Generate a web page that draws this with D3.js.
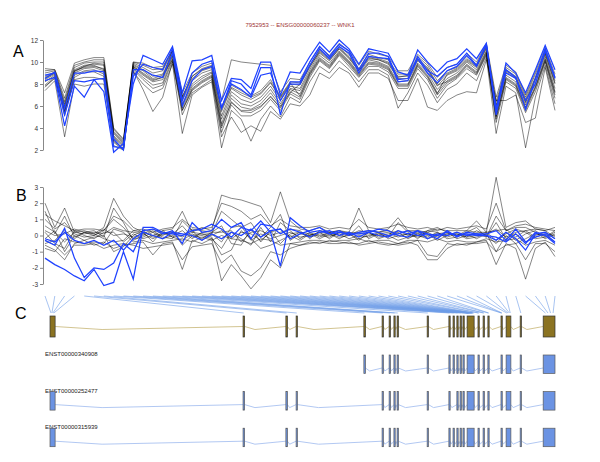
<!DOCTYPE html>
<html>
<head>
<meta charset="utf-8">
<script src="https://cdn.jsdelivr.net/npm/d3@7"></script>
<style>
body { margin: 0; background: #fff; }
svg text { font-family: "Liberation Sans", Arial, sans-serif; }
</style>
</head>
<body>
<div id="chart"></div>
<script>
// Probe-level data: 53 probes, gray = other samples, blue = highlighted samples
var titleText = "7952953 -- ENSG00000060237 -- WNK1";
var ticksA = [2, 4, 6, 8, 10, 12];
var ticksB = [-3, -2, -1, 0, 1, 2, 3];

// Panel A: expression
var grayA = [
  [9.2,9.3,6.7,9.7,10.0,10.2,10.2,3.9,2.9,10.0,9.7,9.3,9.4,11.2,6.9,8.7,9.4,9.7,5.9,7.9,7.4,6.9,7.4,8.4,6.9,8.2,8.1,9.7,11.1,10.4,11.4,10.7,9.4,10.7,10.4,10.2,8.9,8.9,10.5,9.7,8.3,9.2,9.5,10.5,9.8,11.5,6.4,9.5,8.9,6.8,8.9,11.0,8.6],
  [9.0,9.2,6.4,9.5,9.9,10.0,10.0,3.7,2.8,9.9,9.5,9.0,9.2,11.0,6.7,8.5,9.2,9.5,5.5,7.6,7.0,6.6,7.1,8.1,6.7,8.0,7.9,9.5,11.0,10.3,11.3,10.5,9.3,10.5,10.3,10.0,8.7,8.7,10.3,9.5,8.0,9.0,9.4,10.3,9.7,11.4,6.1,9.3,8.7,6.6,8.6,10.9,8.3],
  [8.7,9.1,6.2,9.3,9.7,9.8,9.7,3.5,2.6,9.8,9.3,8.7,8.9,10.8,6.5,8.3,9.0,9.3,5.1,7.3,6.6,6.3,6.8,7.8,6.5,7.8,7.6,9.3,10.8,10.1,11.2,10.3,9.2,10.3,10.2,9.8,8.5,8.5,10.1,9.3,7.8,8.8,9.2,10.1,9.5,11.2,5.8,9.1,8.5,6.3,8.4,10.7,8.0],
  [8.5,9.0,5.9,9.2,9.5,9.6,9.4,3.3,2.5,9.6,9.0,8.4,8.6,10.6,6.2,8.0,8.7,9.1,4.8,7.0,6.2,6.0,6.5,7.5,6.2,7.6,7.4,9.1,10.6,9.9,11.0,10.1,9.0,10.2,10.0,9.6,8.2,8.3,9.9,9.0,7.5,8.5,9.0,10.0,9.3,11.0,5.4,8.8,8.2,6.1,8.1,10.5,7.6],
  [8.2,8.8,5.6,9.0,9.4,9.5,9.2,3.1,2.3,9.5,8.8,8.2,8.4,10.5,6.0,7.8,8.5,9.0,4.4,6.7,5.9,5.7,6.2,7.2,6.0,7.5,7.1,9.0,10.4,9.7,10.9,10.0,8.9,10.0,9.9,9.5,8.0,8.0,9.8,8.8,7.2,8.3,8.8,9.8,9.1,10.9,5.1,8.6,8.0,5.9,7.8,10.3,7.3],
  [7.9,8.7,5.4,8.8,9.2,9.3,8.9,2.9,2.1,9.4,8.6,7.9,8.1,10.3,5.8,7.6,8.3,8.8,4.0,6.4,5.5,5.4,5.9,6.9,5.8,7.3,6.8,8.8,10.2,9.5,10.7,9.8,8.7,9.8,9.7,9.3,7.8,7.8,9.6,8.6,7.0,8.1,8.6,9.6,8.9,10.7,4.8,8.4,7.8,5.6,7.6,10.1,7.0],
  [7.7,8.6,5.1,8.6,9.1,9.1,8.7,2.7,2.0,9.3,8.4,7.6,7.9,10.1,5.6,7.4,8.1,8.6,3.6,6.1,5.1,5.1,5.6,6.6,5.6,7.1,6.6,8.6,10.1,9.4,10.6,9.6,8.6,9.6,9.6,9.1,7.6,7.6,9.4,8.4,6.7,7.9,8.5,9.4,8.8,10.6,4.5,8.2,7.6,5.4,7.3,10.0,6.7],
  [8.4,8.9,5.8,9.1,9.6,9.7,9.3,3.2,2.4,9.6,8.9,8.3,8.6,11.1,6.8,8.7,9.3,9.6,5.7,7.7,7.2,6.8,7.2,8.2,6.8,8.1,6.9,8.9,10.3,9.6,10.8,9.9,8.8,9.9,9.8,9.4,7.9,7.9,9.7,8.7,7.1,8.9,9.3,10.2,9.6,11.3,5.9,9.2,8.6,6.4,8.5,10.8,8.1],
  [8.6,9.0,6.0,9.2,9.6,9.9,9.8,3.6,2.7,9.7,9.2,8.5,8.8,10.2,5.6,7.5,8.2,8.7,4.2,6.3,5.6,5.6,6.0,6.8,5.9,7.2,8.0,9.6,10.9,10.2,11.2,10.4,9.2,10.4,10.2,9.9,8.6,8.8,10.2,9.4,7.9,8.2,8.7,9.7,9.0,10.8,5.0,8.5,7.9,5.8,7.7,10.2,7.2],
  [7.4,8.3,3.2,8.0,7.8,8.0,8.0,2.4,2.0,9.1,8.0,7.2,7.6,9.8,3.5,7.0,7.7,8.2,2.2,5.6,4.8,2.8,4.8,6.0,5.0,6.8,6.3,8.2,9.6,9.0,10.1,9.3,8.2,9.3,9.3,8.8,5.8,7.2,9.0,7.9,6.3,7.5,8.0,9.0,8.3,10.4,3.5,7.8,7.2,2.2,6.8,9.7,6.2],
  [9.4,9.3,7.2,9.9,10.2,10.4,10.4,4.0,3.0,10.0,9.9,9.5,9.6,11.0,7.2,9.0,9.6,9.9,6.5,10.2,10.0,9.9,9.8,9.7,7.3,8.5,8.4,10.0,11.4,10.6,11.7,11.0,9.7,11.0,10.7,10.5,9.2,9.2,10.7,9.9,8.6,9.5,9.8,10.8,10.0,11.7,6.8,9.7,9.1,7.0,9.1,11.3,8.9],
  [7.8,8.5,5.5,8.4,8.6,8.6,8.4,2.8,2.1,9.2,7.5,5.5,6.8,10.0,5.2,7.2,7.8,8.4,3.2,5.0,3.6,4.2,3.7,5.5,4.8,6.2,6.0,7.0,9.0,8.5,9.5,9.0,7.7,9.0,9.0,8.5,6.5,6.5,8.5,5.9,5.6,6.5,7.0,7.3,7.2,10.2,6.5,6.5,7.0,4.5,4.9,9.5,5.6]
];
var blueA = [
  [8.3,8.6,4.2,7.8,6.8,8.4,7.3,1.8,2.6,8.0,10.6,10.2,9.8,11.4,7.2,10.1,10.2,10.6,6.5,8.5,8.4,7.6,10.0,10.0,7.0,9.1,9.0,10.5,11.8,10.9,12.0,11.2,9.8,11.2,11.0,10.8,9.1,8.8,11.1,10.0,9.1,10.0,10.3,11.2,10.3,11.7,5.6,9.9,9.0,7.2,9.3,11.5,9.3],
  [8.8,9.0,5.2,8.3,8.2,8.4,8.5,2.3,2.2,8.7,9.8,9.5,9.3,11.2,6.5,9.0,9.8,10.1,5.8,8.3,8.0,7.0,9.5,9.5,5.2,8.2,8.2,10.0,11.4,10.5,11.6,11.0,9.3,10.8,10.8,10.5,8.4,8.5,10.5,9.2,8.7,9.5,9.8,10.8,9.7,11.6,5.2,9.3,8.6,5.7,8.5,11.2,8.6],
  [8.5,9.1,5.8,9.0,9.0,9.2,9.1,3.0,2.0,9.3,9.3,8.8,8.6,10.8,6.0,8.3,9.3,9.6,5.8,8.0,7.5,6.8,8.8,9.0,6.5,8.0,8.0,9.7,11.2,10.3,11.4,10.8,9.0,10.5,10.4,10.3,8.2,8.3,10.3,9.0,8.1,9.2,9.6,10.6,9.6,11.5,5.8,9.0,8.5,6.5,8.0,11.0,8.5]
];

// Panel B: residuals
var grayB = [
  [0.6,0.2,-0.4,0.2,0.1,0.2,0.1,0.5,0.3,0.2,0.1,-0.2,0.1,0.2,-0.1,0.2,0.1,0.0,0.3,-0.2,0.2,0.1,-0.3,0.2,0.4,-0.1,0.2,0.1,0.0,-0.1,0.2,0.1,-0.2,0.0,0.1,0.2,-0.1,0.1,0.0,0.2,-0.1,0.1,0.0,0.1,-0.2,0.1,0.4,-0.1,0.2,0.3,-0.1,0.1,0.0],
  [1.0,0.4,0.8,0.1,-0.1,0.0,0.3,1.0,0.5,-0.2,-0.1,0.2,-0.2,0.0,0.3,-0.2,0.2,0.1,-0.4,0.5,0.6,-0.3,0.1,-0.2,0.0,0.2,-0.1,0.0,0.2,0.1,-0.1,0.0,0.3,0.2,-0.1,0.0,0.2,-0.2,0.1,-0.1,0.2,-0.1,0.1,-0.1,0.3,0.0,-0.5,0.2,-0.3,0.1,0.3,-0.1,0.2],
  [-0.5,-0.3,0.3,-0.2,0.2,0.1,-0.2,-0.4,-0.3,0.3,0.2,-0.4,0.3,-0.1,-0.3,0.1,-0.2,0.2,0.6,-0.5,-0.6,0.4,-0.4,0.3,-0.5,0.1,0.2,-0.1,0.1,0.0,0.1,-0.2,0.0,-0.1,0.2,-0.2,0.0,0.1,-0.1,0.0,0.1,0.2,-0.2,0.0,0.1,-0.1,0.8,-0.2,0.1,-0.4,0.0,0.2,-0.2],
  [0.2,-0.5,-0.8,0.3,0.0,-0.2,0.2,0.2,-0.4,0.1,-0.2,0.0,0.1,0.1,0.6,-0.1,0.0,-0.2,-0.8,0.2,-0.2,-0.6,0.5,-0.4,0.8,0.3,-0.2,0.2,-0.1,0.2,0.0,0.2,0.1,0.1,0.0,0.1,0.3,0.0,0.2,0.1,-0.3,0.0,0.2,-0.1,0.0,0.2,-0.3,0.1,0.4,0.2,-0.2,-0.1,0.3],
  [1.5,0.1,1.2,-0.1,0.2,0.3,-0.1,1.7,0.8,-0.3,0.0,0.3,-0.1,-0.2,0.9,0.3,-0.3,0.1,1.5,1.0,0.5,0.8,-0.1,0.5,1.3,-0.3,0.1,0.0,0.2,-0.2,0.2,0.0,0.6,-0.2,0.1,-0.1,0.8,0.2,-0.2,0.3,0.2,-0.2,-0.1,0.2,0.5,-0.1,1.2,0.3,0.5,0.5,0.2,-0.2,0.1],
  [-0.2,0.3,-1.0,0.0,-0.3,-0.1,0.0,-1.0,-0.7,0.0,0.3,-0.1,0.0,0.3,-0.6,0.0,0.1,-0.1,-1.2,-0.9,0.3,-0.2,-0.8,-0.6,-0.3,0.0,-0.3,0.1,-0.2,0.1,-0.2,0.1,-0.3,0.2,-0.2,0.0,-0.3,-0.1,0.0,-0.2,0.0,0.1,0.1,-0.2,-0.1,0.1,-1.0,0.0,-0.5,-0.2,0.1,0.0,-0.4],
  [0.3,0.0,0.1,0.4,0.2,0.0,0.4,0.0,0.1,-0.1,0.1,0.4,0.2,-0.1,0.0,0.4,0.3,0.2,0.2,0.3,-0.4,0.2,0.3,0.0,0.2,0.4,0.3,-0.2,0.3,0.2,0.3,0.1,0.2,0.3,0.2,0.3,0.1,0.3,0.3,0.2,0.4,0.3,0.3,0.3,0.2,0.2,0.3,0.4,-0.1,0.3,0.4,0.3,-0.1],
  [-0.8,-1.0,-0.2,-0.4,-0.5,-0.4,-0.5,0.4,0.2,-0.4,-0.3,-0.5,-0.4,-0.3,-0.2,-0.4,-0.1,-0.3,0.0,-0.2,-0.3,-0.5,-0.2,-0.3,-0.6,-0.5,-0.4,-0.3,-0.3,-0.4,-0.3,-0.3,-0.2,-0.4,-0.3,-0.3,-0.5,-0.3,-0.3,-0.4,-0.2,-0.4,-0.3,-0.4,-0.4,-0.2,-0.4,-0.3,-0.2,-0.6,-0.4,-0.3,-0.6],
  [2.0,0.5,1.7,0.2,0.3,0.1,0.5,2.3,1.2,0.5,0.2,0.0,0.3,0.4,1.5,0.2,0.5,0.3,2.5,2.3,2.2,2.0,1.8,0.8,2.7,0.9,0.4,0.3,0.5,0.2,0.3,0.2,1.7,0.3,0.2,0.4,1.1,0.3,0.1,0.3,0.5,0.2,0.0,0.3,0.9,0.2,3.6,0.5,0.8,0.9,0.4,0.3,0.5],
  [-0.6,-0.9,-1.5,-0.5,-0.3,-0.6,-0.4,-0.8,-0.6,-0.5,-0.4,-1.2,-0.5,-0.4,-2.1,-0.3,-0.5,-0.2,-2.8,-1.8,-2.5,-3.3,-2.6,-1.5,-2.0,-0.5,-0.6,-0.4,-0.5,-0.3,-0.4,-0.5,-0.5,-0.3,-0.5,-0.6,-0.5,-0.4,-0.6,-1.5,-1.5,-0.8,-0.5,-0.6,-0.4,-0.3,-1.8,-0.5,-0.8,-2.7,-0.8,-0.4,-1.3],
  [1.3,0.9,0.6,0.3,0.4,0.4,0.3,1.2,0.9,0.3,0.4,0.2,0.4,0.5,1.0,0.5,0.4,0.5,2.0,1.8,1.5,1.0,1.3,0.6,1.0,0.6,0.5,0.5,0.6,0.4,0.5,0.4,1.0,0.5,0.4,0.5,0.7,0.5,0.4,0.5,0.3,0.5,0.4,0.5,0.6,0.4,2.0,0.3,0.6,0.7,0.5,0.4,0.3],
  [-0.3,-0.6,-1.2,-0.6,-0.6,-0.5,-0.8,-0.6,-0.5,-0.6,-0.8,-0.7,-0.6,-0.5,-1.5,-0.7,-0.6,-0.5,-1.7,-1.2,-2.2,-2.5,-2.0,-1.0,-1.2,-0.8,-0.6,-0.5,-0.4,-0.5,-0.5,-0.4,-0.6,-0.5,-0.4,-0.5,-0.6,-0.5,-0.3,-1.2,-1.3,-0.5,-0.6,-0.5,-0.5,-0.4,-1.0,-0.6,-0.5,-1.5,-0.5,-0.5,-1.0]
];
var blueB = [
  [-1.4,-1.8,-2.1,-2.5,-2.8,-2.1,-3.1,-2.9,-1.0,-2.7,0.5,0.5,0.2,0.1,0.0,0.3,0.4,0.7,0.4,-0.1,0.5,0.3,0.9,0.2,-1.9,1.1,0.6,0.2,0.3,0.1,0.2,0.1,0.1,0.2,0.4,0.3,0.0,-0.1,0.3,0.1,0.0,0.2,0.0,0.1,0.0,0.0,-0.1,-0.4,0.1,-0.5,0.2,0.0,-0.5],
  [-0.3,-0.6,0.45,-1.4,-2.6,-2.0,-2.1,-1.7,-0.5,-1.0,0.3,0.4,0.1,0.3,-0.5,0.8,0.2,0.3,1.0,0.5,0.8,-0.2,0.7,0.6,0.1,0.4,0.2,-0.1,0.2,0.3,0.0,0.2,-0.1,0.2,0.0,-0.1,0.3,0.1,0.3,-0.2,0.1,0.0,0.2,0.0,0.1,0.0,-0.3,0.2,-0.2,-0.9,0.1,0.2,-0.2],
  [-0.2,-0.4,0.2,-0.3,-0.5,-0.3,-0.6,-0.3,-0.9,-0.2,0.2,0.0,-0.2,0.2,0.1,0.0,-0.3,0.1,-0.2,0.2,0.0,0.4,-0.1,0.3,0.4,-0.2,0.1,0.3,0.5,0.1,0.3,0.0,0.2,0.3,0.2,0.0,0.1,0.3,0.0,0.1,-0.2,0.3,-0.1,0.2,0.1,0.1,0.3,-0.3,0.4,-0.4,-0.1,0.1,-0.4]
];

// Panel C: gene structure (kb from gene start)
var exons = [[0,1.6],[60.4,60.9],[73.8,74.3],[77.0,77.4],[98.2,98.7],[103.9,104.3],[106.1,106.5],[107.6,108.0],[108.6,109.0],[118.0,118.4],[124.8,125.2],[126.1,126.5],[127.3,127.7],[128.3,128.7],[129.2,129.6],[130.5,132.7],[133.9,134.3],[135.5,135.9],[137.0,137.4],[141.1,141.5],[142.7,144.2],[147.1,147.5],[154.3,158.0]];
var transcripts = ["ENST00000340908", "ENST00000252477", "ENST00000315939"];
var transcriptExons = [
  [4,5,6,7,8,9,10,11,12,13,14,15,16,17,18,19,20,21,22],
  [0,1,2,3,5,6,7,8,9,10,12,13,14,15,16,17,18,19,20,21,22],
  [0,1,2,3,5,6,7,8,9,10,11,12,13,14,15,16,17,18,19,20,21,22]
];
var probePos = [0.3,0.6,0.9,1.2,60.6,74.0,77.2,98.4,104.1,106.3,107.8,108.8,118.2,125.0,126.3,127.5,128.5,129.4,
  130.6,130.7,130.8,130.9,131.0,131.1,131.3,131.4,131.5,131.6,131.8,131.9,132.0,132.1,132.3,132.4,132.6,
  134.0,134.2,135.6,135.8,137.1,137.3,141.2,141.3,141.4,142.9,143.3,143.7,144.0,147.3,155.0,155.8,156.6,157.4];

var nProbes = grayA[0].length;

var svg = d3.select("#chart")
    .append("svg")
    .attr("width", 600)
    .attr("height", 462);

// Title
svg.append("text")
    .attr("x", 300)
    .attr("y", 27)
    .attr("text-anchor", "middle")
    .attr("font-size", "6px")
    .attr("fill", "#9e3434")
    .text(titleText);

// Scales
var x = d3.scaleLinear().domain([0, nProbes - 1]).range([45, 555]);
var yA = d3.scaleLinear().domain([2, 12]).range([150, 40]);
var yB = d3.scaleLinear().domain([-3, 3]).range([284, 187]);
var gx = d3.scaleLinear().domain([0, 158]).range([50, 555]);

function styleAxis(g) {
    g.select(".domain").attr("stroke", "#888");
    g.selectAll(".tick line").attr("stroke", "#888");
    g.selectAll(".tick text").attr("font-size", "6.5px").attr("fill", "#333")
        .attr("font-family", "Liberation Sans, Arial, sans-serif");
}

function drawPanel(yScale, grays, blues, ticks) {
    var line = d3.line().x((d, i) => x(i)).y(d => yScale(d));
    svg.append("g")
        .attr("transform", "translate(43,0)")
        .call(d3.axisLeft(yScale).tickValues(ticks).tickFormat(d => String(d))
            .tickSize(3).tickSizeOuter(0).tickPadding(2))
        .call(styleAxis);
    svg.append("g").selectAll("path").data(grays).enter().append("path")
        .attr("d", line)
        .attr("fill", "none")
        .attr("stroke", "#000")
        .attr("stroke-opacity", 0.6)
        .attr("stroke-width", 0.8);
    svg.append("g").selectAll("path").data(blues).enter().append("path")
        .attr("d", line)
        .attr("fill", "none")
        .attr("stroke", "#1f42ff")
        .attr("stroke-width", 1.25);
}

drawPanel(yA, grayA, blueA, ticksA);
drawPanel(yB, grayB, blueB, ticksB);

// Panel letters
[["A", 13, 57], ["B", 16, 201], ["C", 15, 319]].forEach(function(p) {
    svg.append("text").attr("x", p[1]).attr("y", p[2])
        .attr("font-size", "16px").text(p[0]);
});

// Probe-to-exon connectors
svg.append("g").selectAll("line").data(probePos).enter().append("line")
    .attr("x1", (d, i) => x(i))
    .attr("y1", 296)
    .attr("x2", d => gx(d))
    .attr("y2", 313)
    .attr("stroke", "#6c9be8")
    .attr("stroke-opacity", 0.85)
    .attr("stroke-width", 0.7);

// Intron path with a shallow dip
function intronPath(list, yMid) {
    var pts = [];
    for (var i = 0; i < list.length - 1; i++) {
        var a = gx(list[i][1]), b = gx(list[i + 1][0]);
        pts.push("M" + a + "," + yMid + "L" + (a + (b - a) * 0.25) + "," + (yMid + 3) + "L" + b + "," + yMid);
    }
    return pts.join("");
}

function drawTrack(list, top, h, fill, stroke, intronColor, intronY) {
    svg.append("path")
        .attr("d", intronPath(list, intronY))
        .attr("fill", "none")
        .attr("stroke", intronColor)
        .attr("stroke-width", 0.9);
    svg.append("g").selectAll("rect").data(list).enter().append("rect")
        .attr("x", d => gx(d[0]))
        .attr("y", top)
        .attr("width", d => Math.max(gx(d[1]) - gx(d[0]), 0.6))
        .attr("height", h)
        .attr("fill", fill)
        .attr("stroke", stroke)
        .attr("stroke-width", 0.7);
}

// Gene model
drawTrack(exons, 316, 21, "#8b7322", "#333", "#cdbd84", 326.5);

// Transcripts
transcripts.forEach(function(name, t) {
    var top = 355 + t * 36.6;
    svg.append("text")
        .attr("x", 45)
        .attr("y", top + 1)
        .attr("font-size", "6px")
        .attr("fill", "#222")
        .text(name);
    var list = transcriptExons[t].map(i => exons[i]);
    drawTrack(list, top, 18.5, "#6b93e3", "#5a5a5a", "#a9c2f0", top + 13);
});
</script>
</body>
</html>
